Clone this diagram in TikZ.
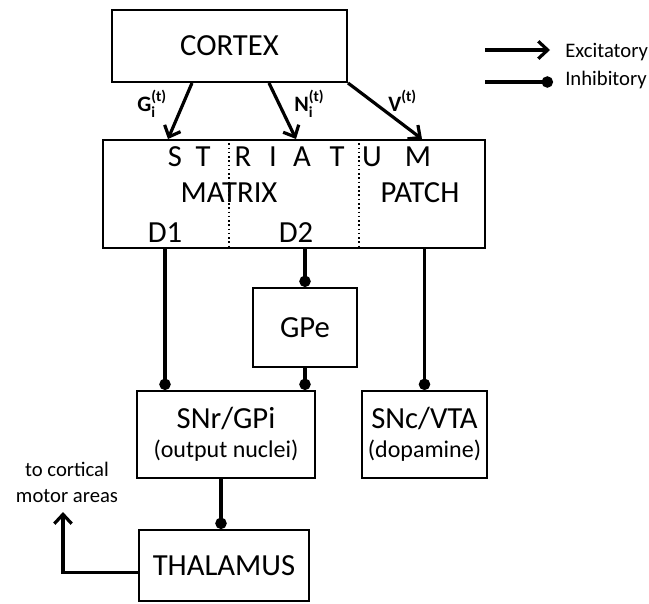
\documentclass[tikz,border=0pt]{standalone}
\usepackage{fontspec}
\setmainfont{Carlito}
\usetikzlibrary{arrows.meta,calc}

\tikzset{
  box/.style={draw, line width=1.5pt, inner sep=0pt, align=center, font=\fontsize{23}{22}\selectfont},
  lab/.style={inner sep=0pt, font=\fontsize{23}{22}\selectfont},
  note/.style={inner sep=0pt, align=center, font=\fontsize{15.5}{19.5}\selectfont},
  inp/.style={inner sep=0pt, font=\fontsize{16.5}{18}\selectfont\bfseries},
  exc/.style={line width=2.4pt, -{Straight Barb[length=7pt,width=13pt]}},
  inh/.style={line width=2.4pt, -{Circle[length=8.5pt]}},
}

% input label with (t) on top and an index below
\newcommand\inlabel[2]{#1\rlap{\raisebox{0.45em}{\fontsize{11.5}{12}\selectfont(t)}}\raisebox{-0.3em}{\fontsize{11.5}{12}\selectfont #2}}

\begin{document}
\begin{tikzpicture}[x=0.75pt, y=-0.75pt]
\useasboundingbox (0,0) rectangle (649,603);

        \node[box, minimum width=176.25pt, minimum height=54pt] (cortex) at (229.5,46) {CORTEX};
        \node[box, minimum width=286.5pt, minimum height=81pt] (striatum) at (294,194) {};
        \node[box, minimum width=78pt, minimum height=59.25pt] (gpe) at (305,327.5) {GPe};
        \node[box, minimum width=133.5pt, minimum height=65.25pt] (snr) at (226,434.5) {SNr/GPi\\{\fontsize{18}{22}\selectfont (output nuclei)}};
        \node[box, minimum width=93.75pt, minimum height=65.25pt] (snc) at (424.5,434.5) {SNc/VTA\\{\fontsize{18}{22}\selectfont (dopamine)}};
        \node[box, minimum width=127.5pt, minimum height=53.25pt] (thal) at (224,565.5) {THALAMUS};

        % spaced-out title and compartments inside the striatum
        \foreach \ch/\x in {S/175,T/203,R/243,I/273,A/302,T/337,U/372,M/418}
                \node[lab, anchor=base] (letter\x) at (\x,166) {\ch};
        \node[lab, anchor=base] (matrix) at (229,202) {MATRIX};
        \node[lab, anchor=base] (patch) at (420,202) {PATCH};
        \node[lab, anchor=base] (d1) at (165,242) {D1};
        \node[lab, anchor=base] (d2) at (296,242) {D2};

        \draw[dotted, line width=1.2pt] ($(striatum.north)+(-65,0)$) -- ($(striatum.south)+(-65,0)$);
        \draw[dotted, line width=1.2pt] ($(striatum.north)+(65,0)$) -- ($(striatum.south)+(65,0)$);

        % cortical inputs
        \draw[exc] ($(cortex.south)+(-37.5,0)$) -- ($(striatum.north)+(-126,0)$);
        \draw[exc] ($(cortex.south)+(39.5,0)$) -- ($(striatum.north)+(2,0)$);
        \draw[exc] (cortex.south east) -- ($(striatum.north)+(128,0)$);

        \node[inp, anchor=base west] (glab) at (137,111) {\inlabel{G}{i}};
        \node[inp, anchor=base west] (nlab) at (294,111) {\inlabel{N}{i}};
        \node[inp, anchor=base west] (vlab) at (388,111) {V\raisebox{0.45em}{\fontsize{11.5}{12}\selectfont(t)}};

        % inhibitory pathways
        \draw[inh] (striatum.south -| d1) -- (snr.north -| d1);
        \draw[inh] (striatum.south -| gpe) -- (gpe.north);
        \draw[inh] (gpe.south) -- (gpe.south |- snr.north);
        \draw[inh] (striatum.south -| snc) -- (snc.north);
        \draw[inh] ($(snr.south)+(-5,0)$) -- ($(thal.north)+(-3,0)$);

        % thalamic output
        \node[note] (motor) at (67,482) {to cortical\\motor areas};
        \coordinate (motortip) at (63,512);
        \draw[exc] ($(thal.west)+(0,7)$) -| (motortip);

        % legend
        \coordinate (excA) at (485,50);
        \coordinate (excB) at (550,50);
        \coordinate (inhA) at (485,82);
        \coordinate (inhB) at (553,82);
        \draw[exc] (excA) -- (excB);
        \draw[inh] (inhA) -- (inhB);
        \node[note, anchor=base west] (exctext) at (565,57) {Excitatory};
        \node[note, anchor=base west] (inhtext) at (565,85) {Inhibitory};

\end{tikzpicture}
\end{document}
